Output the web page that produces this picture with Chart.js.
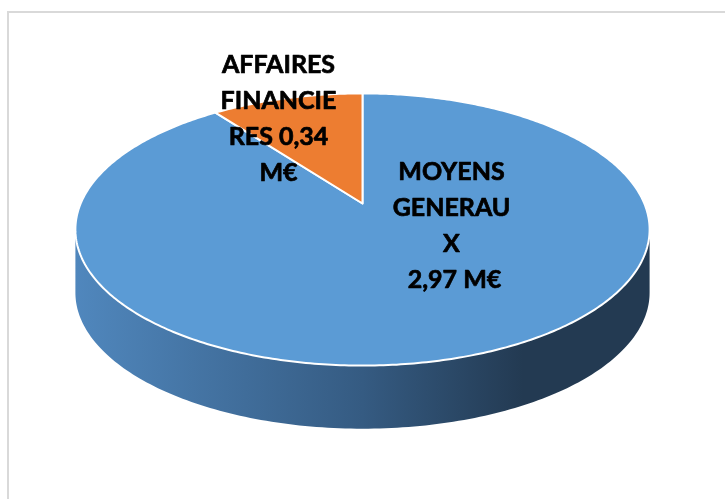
<!DOCTYPE html>
<html>
<head>
<meta charset="utf-8">
<script src="https://cdn.jsdelivr.net/npm/chart.js@4.4.0/dist/chart.umd.min.js"></script>
<style>
    html, body { margin: 0; padding: 0; background: #fff; overflow: hidden; }
    #wrap { position: relative; width: 725px; height: 499px; overflow: hidden; }
    #frame { position: absolute; left: 7px; top: 11px; width: 760px; height: 560px; border: 2px solid #d9d9d9; box-sizing: border-box; }
    #chart { position: absolute; left: 0; top: 0; }
</style>
</head>
<body>
<div id="wrap">
    <div id="frame"></div>
    <canvas id="chart" width="725" height="499"></canvas>
</div>
<script>
// Data (M€)
const categories = ['MOYENS GENERAUX', 'AFFAIRES FINANCIERES'];
const values = [2.97, 0.34];
const labelLines = [
    ['MOYENS', 'GENERAU', 'X', ' 2,97 M€'],
    ['AFFAIRES', 'FINANCIE', 'RES 0,34', 'M€']
];
const colors = ['#5b9bd5', '#ed7d31'];
const sideColors = [['#5087bd', '#355b82', '#233a52'], ['#c0601f', '#9a4a17', '#7a3a10']];

// 3D look: flatten the disc, tilt it with a little perspective, extrude it
const ELL_X = 1.251;
const ELL_Y = 0.593;
const PERSP = -0.191;
const DEPTH = 0.275;

function project(cx, cy, A, B, t) {
    const u = Math.cos(t), v = Math.sin(t);
    const d = 1 + PERSP * v;
    return [cx + A * Math.sqrt(1 - PERSP * PERSP) * u / d, cy + B * (v + PERSP) / d];
}

const pie3d = {
    id: 'pie3d',
    beforeDatasetsDraw(chart) {
        const ctx = chart.ctx;
        const arcs = chart.getDatasetMeta(0).data;
        if (!arcs.length) return false;
        const cx = arcs[0].x, cy = arcs[0].y, R = arcs[0].outerRadius;
        const A = R * ELL_X, B = R * ELL_Y, D = R * DEPTH;

        // side wall (front half only)
        const tL = Math.asin(-PERSP), tR = Math.PI - tL;
        arcs.forEach((arc, i) => {
            [-2 * Math.PI, 0, 2 * Math.PI].forEach(shift => {
                const s = Math.max(arc.startAngle + shift, tL);
                const e = Math.min(arc.endAngle + shift, tR);
                if (e <= s) return;
                const n = Math.max(8, Math.ceil((e - s) * 60));
                const top = [];
                for (let k = 0; k <= n; k++) top.push(project(cx, cy, A, B, s + (e - s) * k / n));
                ctx.save();
                ctx.beginPath();
                top.forEach((p, k) => k ? ctx.lineTo(p[0], p[1]) : ctx.moveTo(p[0], p[1]));
                for (let k = n; k >= 0; k--) ctx.lineTo(top[k][0], top[k][1] + D);
                ctx.closePath();
                const g = ctx.createLinearGradient(cx - A, 0, cx + A, 0);
                g.addColorStop(0, sideColors[i][0]);
                g.addColorStop(0.5, sideColors[i][1]);
                g.addColorStop(0.78, sideColors[i][2]);
                g.addColorStop(1, sideColors[i][2]);
                ctx.fillStyle = g;
                ctx.fill();
                ctx.restore();
            });
        });

        // top face slices
        const vertex = [cx, cy + B * PERSP];
        arcs.forEach((arc, i) => {
            const s = arc.startAngle, e = arc.endAngle;
            const n = Math.max(8, Math.ceil((e - s) * 80));
            ctx.save();
            ctx.beginPath();
            ctx.moveTo(vertex[0], vertex[1]);
            for (let k = 0; k <= n; k++) {
                const p = project(cx, cy, A, B, s + (e - s) * k / n);
                ctx.lineTo(p[0], p[1]);
            }
            ctx.closePath();
            ctx.fillStyle = arc.options.backgroundColor;
            ctx.fill();
            ctx.lineWidth = 2;
            ctx.lineJoin = 'round';
            ctx.strokeStyle = '#ffffff';
            ctx.stroke();
            ctx.restore();
        });
        return false;
    },
    afterDraw(chart) {
        const ctx = chart.ctx;
        const arcs = chart.getDatasetMeta(0).data;
        const cx = arcs[0].x, cy = arcs[0].y;
        // label block centres relative to the pie centre
        const offsets = [[89, -5], [-84, -112]];
        const fontSize = 25;
        const pitch = 36;
        ctx.save();
        ctx.font = `bold ${fontSize}px Lato, "Liberation Sans", sans-serif`;
        ctx.fillStyle = '#000';
        ctx.strokeStyle = '#000';
        ctx.lineWidth = 0.7;
        ctx.lineJoin = 'round';
        ctx.textAlign = 'center';
        ctx.textBaseline = 'alphabetic';
        labelLines.forEach((lines, i) => {
            const x = cx + offsets[i][0];
            const y0 = cy + offsets[i][1] - (lines.length - 1) * pitch / 2;
            lines.forEach((t, k) => {
                const y = y0 + k * pitch + fontSize * 0.36;
                ctx.fillText(t, x, y);
                ctx.strokeText(t, x, y);
            });
        });
        ctx.restore();
    }
};

new Chart(document.getElementById('chart'), {
    type: 'pie',
    data: {
        labels: categories,
        datasets: [{
            data: values,
            backgroundColor: colors,
            borderWidth: 0
        }]
    },
    options: {
        responsive: false,
        animation: false,
        layout: { padding: { top: 0, bottom: 40, left: 0, right: 0 } },
        plugins: {
            legend: { display: false },
            tooltip: { enabled: false }
        }
    },
    plugins: [pie3d]
});
</script>
</body>
</html>
